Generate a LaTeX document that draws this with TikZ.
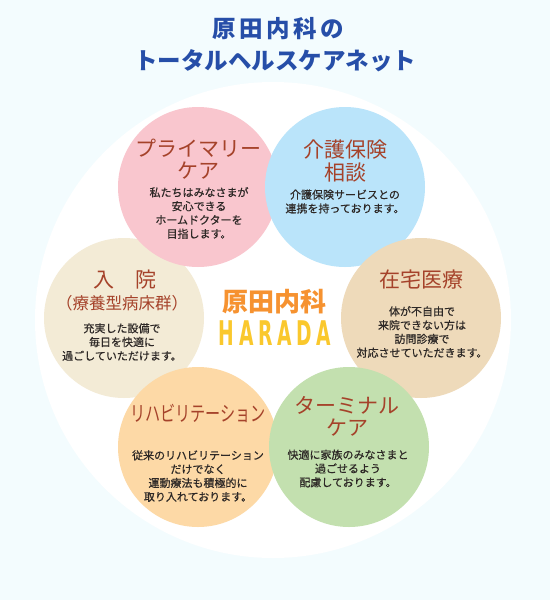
\documentclass[tikz,border=0pt]{standalone}
\usepackage{fontspec}
\setmainfont{Noto Sans CJK JP}
\newfontfamily\spacedfont[LetterSpace=15]{Noto Sans CJK JP}
\newfontfamily\blurbfont[FakeBold=0.5]{Noto Sans CJK JP}
\newfontfamily\logofont[FakeStretch=0.55,LetterSpace=14]{DejaVu Sans Bold}

\definecolor{bgcyan}{RGB}{243,252,254}
\definecolor{titleblue}{RGB}{38,78,168}
\definecolor{headbrown}{RGB}{165,66,42}
\definecolor{bodygray}{RGB}{45,40,38}
\definecolor{logoorange}{RGB}{246,146,48}
\definecolor{logoyellow}{RGB}{250,200,45}
\definecolor{primaryc}{RGB}{249,198,206}
\definecolor{carec}{RGB}{186,228,250}
\definecolor{hospitalc}{RGB}{243,235,214}
\definecolor{homec}{RGB}{238,218,186}
\definecolor{rehabc}{RGB}{253,217,166}
\definecolor{terminalc}{RGB}{195,224,175}

\begin{document}
\begin{tikzpicture}[x=1pt,y=-1pt,
  bubble/.style={circle,minimum size=160pt,inner sep=0pt},
  titletext/.style={text=titleblue,font=\fontsize{23.5}{26}\selectfont\bfseries},
  heading/.style={text=headbrown,align=center,inner sep=0pt,font=\fontsize{21}{22.5}\selectfont},
  blurb/.style={text=bodygray,align=center,inner sep=0pt,font=\fontsize{11}{13.8}\blurbfont}]
  \fill[bgcyan] (0,0) rectangle (550,600);
  \useasboundingbox (0,0) rectangle (550,600);
  \node[bubble,minimum size=476pt,fill=white] (net) at (273,320) {};

  \node[titletext,font=\fontsize{23.5}{26}\spacedfont\bfseries] (title1) at (278,29) {原田内科の};
  \node[titletext] (title2) at (275,61) {トータルヘルスケアネット};

  \node[bubble,fill=hospitalc] (hospital) at (124,318) {};
  \node[bubble,fill=primaryc] (primary) at (198,187) {};
  \node[bubble,fill=carec] (care) at (345,187) {};
  \node[bubble,fill=homec] (home) at (421,318) {};
  \node[bubble,fill=rehabc] (rehab) at (198,447) {};
  \node[bubble,fill=terminalc] (terminal) at (349,447) {};

  \node[heading] (primaryhead) at (198,159) {プライマリー\\ケア};
  \node[blurb] (primarybody) at (199,213) {私たちはみなさまが\\安心できる\\ホームドクターを\\目指します。};

  \node[heading] (carehead) at (345,161) {介護保険\\相談};
  \node[blurb] (carebody) at (345,201.5) {介護保険サービスとの\\連携を持っております。};

  \node[heading] (hospitalhead) at (125,280) {入　院};
  \node[heading,font=\fontsize{16.5}{18}\selectfont] (hospitalsub) at (122,303) {（療養型病床群）};
  \node[blurb] (hospitalbody) at (122,342) {充実した設備で\\毎日を快適に\\過ごしていただけます。};

  \node[heading] (homehead) at (421,280) {在宅医療};
  \node[blurb] (homebody) at (422,332) {体が不自由で\\来院できない方は\\訪問診療で\\対応させていただきます。};

  \node[heading] (rehabhead) at (198,413) {\scalebox{0.72}[1]{リハビリテーション}};
  \node[blurb] (rehabbody) at (198,476) {従来のリハビリテーション\\だけでなく\\運動療法も積極的に\\取り入れております。};

  \node[heading] (terminalhead) at (347,416.5) {ターミナル\\ケア};
  \node[blurb] (terminalbody) at (348,468.5) {快適に家族のみなさまと\\過ごせるよう\\配慮しております。};

  \node[text=logoorange,font=\fontsize{26}{28}\selectfont\bfseries] (logo) at (274,302) {原田内科};
  \node[text=logoyellow,font=\fontsize{34}{36}\logofont] (harada) at (275,333) {HARADA};
\end{tikzpicture}
\end{document}
